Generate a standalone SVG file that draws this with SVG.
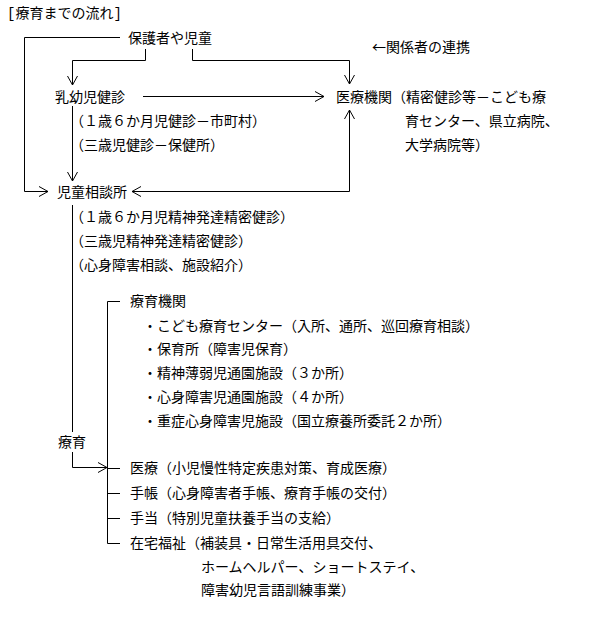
<svg xmlns="http://www.w3.org/2000/svg" width="589" height="626" viewBox="0 0 589 626">
<style>
text{font-family:"Noto Sans CJK JP","Noto Sans CJK SC",sans-serif;font-size:14px;fill:#000}
.m{font-family:"Liberation Mono",monospace}
.c{fill:none;stroke:#000;stroke-width:1}
.a{marker-end:url(#ah)}
</style>
<defs>
<marker id="ah" viewBox="0 0 12 12" markerWidth="12" markerHeight="12" refX="10" refY="6" orient="auto-start-reverse" markerUnits="userSpaceOnUse">
<path d="M1,1 L10,6 L1,11" fill="none" stroke="#000" stroke-width="1"/>
</marker>
</defs>
<rect width="589" height="626" fill="#fff"/>
<g id="title"><text x="7" y="18"><tspan class="m">[</tspan>療育までの流れ<tspan class="m">]</tspan></text></g>
<g id="hogosha"><text x="128" y="43">保護者や児童</text></g>
<g id="renkei"><text x="372" y="52">←関係者の連携</text></g>
<g id="nyuyoji">
<text x="55" y="102">乳幼児健診</text>
<text x="70" y="126">（１歳６か月児健診－市町村）</text>
<text x="70" y="150">（三歳児健診－保健所）</text>
</g>
<g id="iryokikan">
<text x="336" y="102">医療機関（精密健診等－こども療</text>
<text x="405" y="126">育センター、県立病院、</text>
<text x="405" y="150">大学病院等）</text>
</g>
<g id="jidosodan">
<text x="57" y="197">児童相談所</text>
<text x="70" y="222">（１歳６か月児精神発達精密健診）</text>
<text x="70" y="246">（三歳児精神発達精密健診）</text>
<text x="70" y="270">（心身障害相談、施設紹介）</text>
</g>
<g id="ryoikukikan">
<text x="130" y="306">療育機関</text>
<text x="143" y="331">・こども療育センター（入所、通所、巡回療育相談）</text>
<text x="143" y="354">・保育所（障害児保育）</text>
<text x="143" y="378">・精神薄弱児通園施設（３か所）</text>
<text x="143" y="402">・心身障害児通園施設（４か所）</text>
<text x="143" y="426">・重症心身障害児施設（国立療養所委託２か所）</text>
</g>
<g id="ryoiku"><text x="58" y="447">療育</text></g>
<g id="iryo"><text x="130" y="473">医療（小児慢性特定疾患対策、育成医療）</text></g>
<g id="techo"><text x="130" y="498">手帳（心身障害者手帳、療育手帳の交付）</text></g>
<g id="teate"><text x="130" y="523">手当（特別児童扶養手当の支給）</text></g>
<g id="zaitaku">
<text x="130" y="548">在宅福祉（補装具・日常生活用具交付、</text>
<text x="201" y="572">ホームヘルパー、ショートステイ、</text>
<text x="201" y="595">障害幼児言語訓練事業）</text>
</g>
<g id="connectors">
<path class="c a" d="M120,37.5 H24.5 V191.5 H48"/>
<path class="c a" d="M145.5,49 V60.5 H72.5 V85"/>
<path class="c a" d="M192.5,49 V60.5 H349.5 V84"/>
<path class="c a" d="M143,96.5 H324"/>
<path class="c a" d="M72.5,106 V181"/>
<path class="c a" d="M349.5,110 V191.5 H132" marker-start="url(#ah)"/>
<path class="c" d="M72.5,205 V432"/>
<path class="c a" d="M72.5,452 V467.5 H107"/>
<path class="c" d="M120,301.5 H107.5 V543.5 H120 M107.5,468.5 H120 M107.5,493.5 H120 M107.5,518.5 H120"/>
</g>
</svg>
